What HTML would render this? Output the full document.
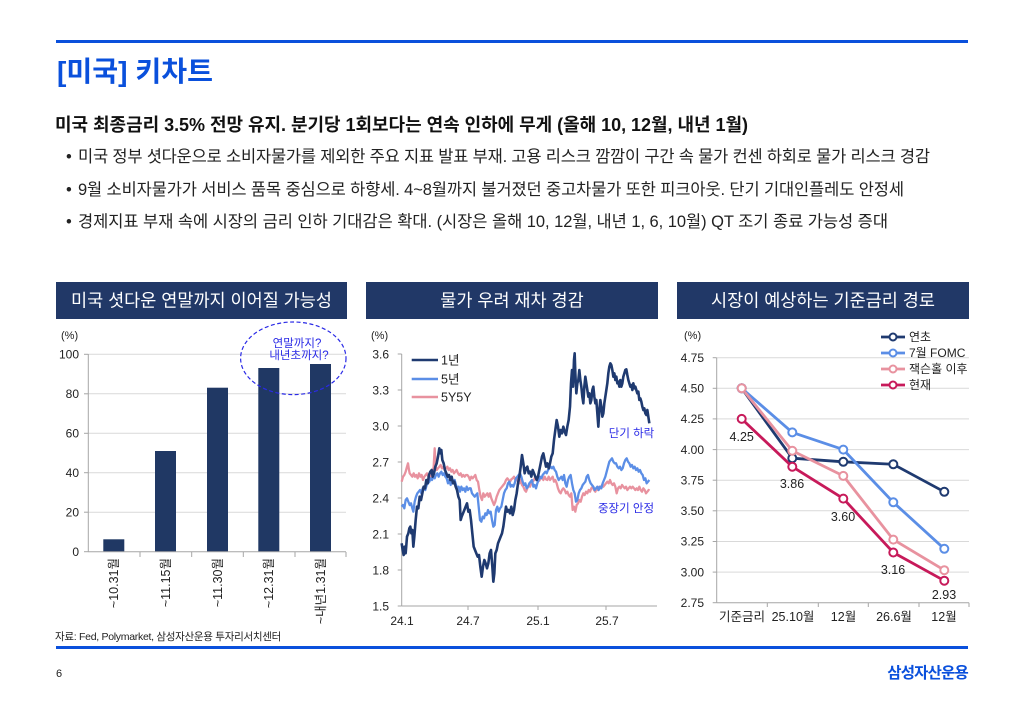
<!DOCTYPE html>
<html><head><meta charset="utf-8">
<style>
html,body{margin:0;padding:0;background:#fff;}
svg{display:block;}
text{font-family:"Liberation Sans","Noto Sans CJK KR",sans-serif;}
</style></head>
<body>
<svg width="1024" height="709" viewBox="0 0 1024 709" xmlns="http://www.w3.org/2000/svg">
<rect x="0" y="0" width="1024" height="709" fill="#fff"/>
<!-- top rule & title -->
<rect x="56" y="40" width="912" height="3" fill="#0a50dc"/>
<text x="57" y="81" font-size="28" font-weight="bold" fill="#0a50dc" textLength="156" lengthAdjust="spacingAndGlyphs">[미국] 키차트</text>

<text x="55" y="131" font-size="18" font-weight="bold" fill="#111" textLength="693" lengthAdjust="spacing">미국 최종금리 3.5% 전망 유지. 분기당 1회보다는 연속 인하에 무게 (올해 10, 12월, 내년 1월)</text>

<g font-size="16.5" fill="#222">
<text x="66" y="162">•</text>
<text x="78" y="162" textLength="852" lengthAdjust="spacing">미국 정부 셧다운으로 소비자물가를 제외한 주요 지표 발표 부재. 고용 리스크 깜깜이 구간 속 물가 컨센 하회로 물가 리스크 경감</text>
<text x="66" y="195">•</text>
<text x="78" y="195" textLength="826" lengthAdjust="spacing">9월 소비자물가가 서비스 품목 중심으로 하향세. 4~8월까지 불거졌던 중고차물가 또한 피크아웃. 단기 기대인플레도 안정세</text>
<text x="66" y="227">•</text>
<text x="78" y="227" textLength="810" lengthAdjust="spacing">경제지표 부재 속에 시장의 금리 인하 기대감은 확대. (시장은 올해 10, 12월, 내년 1, 6, 10월) QT 조기 종료 가능성 증대</text>
</g>

<!-- panel headers -->
<rect x="56" y="282" width="291" height="37" fill="#213867"/>
<rect x="366" y="282" width="292" height="37" fill="#213867"/>
<rect x="677" y="282" width="292" height="37" fill="#213867"/>
<g font-size="17.5" fill="#fff" text-anchor="middle">
<text x="201.5" y="306.5">미국 셧다운 연말까지 이어질 가능성</text>
<text x="512" y="306.5">물가 우려 재차 경감</text>
<text x="823" y="306.5">시장이 예상하는 기준금리 경로</text>
</g>

<!-- ============ LEFT CHART ============ -->
<g stroke="#d9d9d9" stroke-width="1">
<line x1="88" y1="354.3" x2="346" y2="354.3"/>
<line x1="88" y1="393.8" x2="346" y2="393.8"/>
<line x1="88" y1="433.3" x2="346" y2="433.3"/>
<line x1="88" y1="472.7" x2="346" y2="472.7"/>
<line x1="88" y1="512.2" x2="346" y2="512.2"/>
</g>
<g fill="#203864">
<rect x="103.3" y="539.3" width="21" height="12.4"/>
<rect x="155" y="451" width="21" height="100.7"/>
<rect x="207" y="387.7" width="21" height="164"/>
<rect x="258.3" y="368" width="21" height="183.7"/>
<rect x="310" y="364" width="21" height="187.7"/>
</g>
<g stroke="#a6a6a6" stroke-width="1">
<line x1="88.3" y1="354" x2="88.3" y2="552"/>
<line x1="88" y1="551.7" x2="346" y2="551.7"/>
<line x1="84" y1="354.3" x2="88" y2="354.3"/>
<line x1="84" y1="393.8" x2="88" y2="393.8"/>
<line x1="84" y1="433.3" x2="88" y2="433.3"/>
<line x1="84" y1="472.7" x2="88" y2="472.7"/>
<line x1="84" y1="512.2" x2="88" y2="512.2"/>
<line x1="84" y1="551.7" x2="88" y2="551.7"/>
<line x1="140" y1="552" x2="140" y2="557"/>
<line x1="191.7" y1="552" x2="191.7" y2="557"/>
<line x1="243.3" y1="552" x2="243.3" y2="557"/>
<line x1="295" y1="552" x2="295" y2="557"/>
<line x1="346" y1="552" x2="346" y2="557"/>
</g>
<g font-size="12" fill="#222" text-anchor="end">
<text x="79" y="358.5">100</text>
<text x="79" y="398">80</text>
<text x="79" y="437.5">60</text>
<text x="79" y="477">40</text>
<text x="79" y="516.5">20</text>
<text x="79" y="556">0</text>
</g>
<text x="61" y="339" font-size="11" fill="#222">(%)</text>
<g font-size="12.5" fill="#222" text-anchor="end">
<text transform="translate(118.2,558) rotate(-90)">~10.31월</text>
<text transform="translate(169.9,558) rotate(-90)">~11.15월</text>
<text transform="translate(221.9,558) rotate(-90)">~11.30월</text>
<text transform="translate(273.2,558) rotate(-90)">~12.31월</text>
<text transform="translate(324.9,558) rotate(-90)">~내년1.31월</text>
</g>
<ellipse cx="293.3" cy="358.3" rx="52.7" ry="36.3" fill="none" stroke="#2a2ae6" stroke-width="1.2" stroke-dasharray="4,2.5"/>
<g font-size="11.5" fill="#2a2ae6" text-anchor="middle">
<text x="297" y="347">연말까지?</text>
<text x="299" y="359">내년초까지?</text>
</g>

<!-- ============ MIDDLE CHART ============ -->
<g stroke="#a6a6a6" stroke-width="1">
<line x1="401.7" y1="354" x2="401.7" y2="606"/>
<line x1="401.7" y1="606" x2="657" y2="606"/>
<line x1="397.7" y1="354" x2="401.7" y2="354"/>
<line x1="397.7" y1="390" x2="401.7" y2="390"/>
<line x1="397.7" y1="426" x2="401.7" y2="426"/>
<line x1="397.7" y1="462" x2="401.7" y2="462"/>
<line x1="397.7" y1="498" x2="401.7" y2="498"/>
<line x1="397.7" y1="534" x2="401.7" y2="534"/>
<line x1="397.7" y1="570" x2="401.7" y2="570"/>
<line x1="397.7" y1="606" x2="401.7" y2="606"/>
<line x1="468" y1="606" x2="468" y2="610"/>
<line x1="538" y1="606" x2="538" y2="610"/>
<line x1="606" y1="606" x2="606" y2="610"/>
</g>
<g font-size="12" fill="#222" text-anchor="end">
<text x="389" y="358.5">3.6</text>
<text x="389" y="394.5">3.3</text>
<text x="389" y="430.5">3.0</text>
<text x="389" y="466.5">2.7</text>
<text x="389" y="502.5">2.4</text>
<text x="389" y="538.5">2.1</text>
<text x="389" y="574.5">1.8</text>
<text x="389" y="610.5">1.5</text>
</g>
<text x="371" y="339" font-size="11" fill="#222">(%)</text>
<g font-size="12" fill="#222" text-anchor="middle">
<text x="402" y="625">24.1</text>
<text x="468" y="625">24.7</text>
<text x="538" y="625">25.1</text>
<text x="607" y="625">25.7</text>
</g>
<g transform="translate(360,320) scale(0.333333)" fill="none" stroke-linejoin="round">
<polyline vector-effect="non-scaling-stroke" stroke="#e8929f" stroke-width="2.3" points="125,485 129,470 133,465 137,455 141,440 144,430 147,450 149,460 153,465 157,470 161,460 165,470 169,465 173,475 177,460 181,470 185,465 189,480 193,470 197,465 201,460 205,470 209,465 213,475 217,460 221,440 224,385 227,440 230,450 234,445 238,440 242,435 246,445 250,440 254,450 258,445 262,440 266,450 270,445 274,455 278,450 282,460 286,455 290,450 294,460 298,465 302,460 306,470 310,465 314,470 318,465 322,465 326,470 330,480 334,470 338,475 342,470 346,465 350,480 354,485 358,510 362,530 366,540 370,520 374,530 378,525 382,520 386,530 390,520 394,535 398,545 402,555 406,545 410,530 414,520 418,510 422,505 426,500 430,495 434,490 438,480 442,475 446,480 450,485 454,478 458,475 462,470 466,480 470,475 474,485 478,490 482,480 486,495 490,500 494,510 498,515 502,505 506,495 510,500 514,490 518,485 522,480 526,470 530,475 534,478 538,482 542,475 546,470 550,480 554,470 558,478 562,480 566,470 570,480 574,475 578,470 582,485 586,480 590,490 594,505 598,515 602,520 606,510 610,505 614,510 618,520 622,515 626,525 630,530 634,520 638,570 642,560 646,575 650,555 654,550 658,540 662,545 666,530 670,520 674,525 678,515 682,520 686,510 690,515 694,505 698,500 702,510 706,515 710,505 714,510 718,500 722,505 726,495 730,500 734,495 738,490 742,485 746,490 750,480 754,490 758,495 762,490 766,500 770,520 774,505 778,500 782,505 786,495 790,500 794,505 798,500 802,510 806,505 810,500 814,505 818,500 822,505 826,510 830,505 834,510 838,500 842,510 846,515 850,505 854,510 858,520 862,515 866,510 868,512"/>
<polyline vector-effect="non-scaling-stroke" stroke="#5b8ee6" stroke-width="2.3" points="125,560 129,555 133,565 137,540 141,535 145,545 149,555 153,550 157,565 160,575 164,545 168,530 172,520 176,515 180,510 184,520 188,505 192,500 196,510 200,495 204,490 208,485 212,475 216,480 220,470 224,475 228,465 232,460 236,470 240,460 244,455 248,465 252,460 256,470 260,475 264,490 268,480 272,495 276,480 280,490 284,480 288,495 292,505 296,500 300,515 304,500 308,510 312,505 316,515 320,500 324,510 328,505 332,505 336,520 340,525 344,530 348,525 352,520 356,560 360,600 364,605 368,590 372,595 376,580 380,585 384,570 388,580 392,575 396,600 400,620 404,615 408,570 412,560 416,575 420,565 424,560 428,540 432,520 436,510 440,505 444,490 448,485 452,500 456,495 460,500 464,490 468,475 472,470 476,465 480,460 484,470 488,485 492,495 496,490 500,505 504,500 508,490 512,485 516,480 520,500 524,495 528,505 532,490 536,480 540,470 544,475 548,465 552,460 556,455 560,460 564,450 568,445 572,440 576,445 580,440 584,450 588,455 592,470 596,480 600,475 604,470 608,480 612,465 616,490 620,500 624,480 628,470 632,465 636,490 640,510 644,520 648,545 652,540 656,520 660,510 664,505 668,495 672,490 676,485 680,470 684,465 688,480 692,490 696,495 700,500 704,510 708,505 712,500 716,510 720,500 724,505 728,490 732,480 736,470 740,455 744,440 748,425 752,420 756,415 760,425 764,430 768,430 772,440 776,445 780,440 784,450 788,445 792,430 796,420 800,415 804,425 808,430 812,440 816,435 820,445 824,440 828,450 832,445 836,455 840,450 844,460 848,465 852,480 856,475 860,490 864,485 868,480"/>
<polyline vector-effect="non-scaling-stroke" stroke="#1f3a70" stroke-width="2.6" points="125,670 128,690 131,705 134,680 137,700 141,650 145,640 148,625 151,620 154,640 157,630 160,680 163,650 167,600 171,560 175,565 179,530 183,540 187,520 191,500 195,505 199,480 203,490 207,465 211,455 215,450 218,470 222,460 226,440 230,430 234,410 238,385 241,400 244,390 247,420 251,430 255,450 259,460 263,470 267,465 271,480 275,470 279,490 283,485 287,500 291,510 295,530 299,540 302,600 305,590 309,580 313,570 317,560 321,550 325,575 329,570 333,600 337,640 341,680 345,690 349,700 353,710 357,705 361,740 365,770 369,740 373,720 377,730 381,745 385,730 389,700 393,690 397,740 400,785 403,760 406,700 410,690 414,670 418,660 422,650 426,640 430,620 434,590 438,560 442,575 446,570 450,580 454,560 458,585 462,570 466,540 470,520 474,490 478,470 482,440 486,405 490,430 494,460 498,445 502,440 506,460 510,455 514,470 518,450 522,460 526,470 530,480 534,470 538,450 542,430 546,410 550,400 554,420 558,440 562,430 566,445 570,430 574,410 578,400 582,360 586,330 590,300 594,320 598,350 602,330 606,340 610,320 614,335 618,345 622,320 626,300 630,260 633,190 636,150 639,200 642,120 644,100 646,160 649,220 652,190 655,180 658,150 661,180 664,200 667,230 670,250 673,200 676,170 679,190 682,210 685,230 688,220 691,250 694,240 697,210 700,200 703,230 706,250 709,240 712,280 715,320 718,270 721,240 724,260 727,290 730,280 733,250 736,230 739,210 742,190 745,160 748,140 751,130 754,135 757,150 760,170 763,160 766,180 769,170 772,190 775,185 778,200 781,180 784,200 787,190 790,170 793,160 796,150 799,148 802,165 805,180 808,190 811,200 814,195 817,210 820,190 823,205 826,200 829,210 832,220 835,215 838,240 841,235 844,245 847,260 850,270 853,265 856,280 859,285 862,270 865,290 868,310"/>
</g>
<g stroke-width="2.6">
<line x1="411.7" y1="360" x2="438" y2="360" stroke="#1f3a70"/>
<line x1="411.7" y1="379" x2="438" y2="379" stroke="#5b8ee6"/>
<line x1="411.7" y1="397" x2="438" y2="397" stroke="#e8929f"/>
</g>
<g font-size="12.5" fill="#222">
<text x="441" y="364.5">1년</text>
<text x="441" y="383.5">5년</text>
<text x="441" y="401.5">5Y5Y</text>
</g>
<g font-size="11.5" fill="#2a2ae6" text-anchor="middle">
<text x="631.5" y="437">단기 하락</text>
<text x="626" y="512">중장기 안정</text>
</g>

<!-- ============ RIGHT CHART ============ -->
<g stroke="#d9d9d9" stroke-width="1">
<line x1="717" y1="357.7" x2="969" y2="357.7"/>
<line x1="717" y1="388.3" x2="969" y2="388.3"/>
<line x1="717" y1="418.9" x2="969" y2="418.9"/>
<line x1="717" y1="449.6" x2="969" y2="449.6"/>
<line x1="717" y1="480.2" x2="969" y2="480.2"/>
<line x1="717" y1="510.8" x2="969" y2="510.8"/>
<line x1="717" y1="541.5" x2="969" y2="541.5"/>
<line x1="717" y1="572.1" x2="969" y2="572.1"/>
</g>
<g stroke="#a6a6a6" stroke-width="1">
<line x1="716.7" y1="357.7" x2="716.7" y2="602.7"/>
<line x1="716.7" y1="602.7" x2="969" y2="602.7"/>
<line x1="712.7" y1="357.7" x2="716.7" y2="357.7"/>
<line x1="712.7" y1="388.3" x2="716.7" y2="388.3"/>
<line x1="712.7" y1="418.9" x2="716.7" y2="418.9"/>
<line x1="712.7" y1="449.6" x2="716.7" y2="449.6"/>
<line x1="712.7" y1="480.2" x2="716.7" y2="480.2"/>
<line x1="712.7" y1="510.8" x2="716.7" y2="510.8"/>
<line x1="712.7" y1="541.5" x2="716.7" y2="541.5"/>
<line x1="712.7" y1="572.1" x2="716.7" y2="572.1"/>
<line x1="712.7" y1="602.7" x2="716.7" y2="602.7"/>
<line x1="767.3" y1="602.7" x2="767.3" y2="607"/>
<line x1="818.3" y1="602.7" x2="818.3" y2="607"/>
<line x1="868.3" y1="602.7" x2="868.3" y2="607"/>
<line x1="919" y1="602.7" x2="919" y2="607"/>
<line x1="969" y1="602.7" x2="969" y2="607"/>
</g>
<g font-size="12" fill="#222" text-anchor="end">
<text x="704" y="362">4.75</text>
<text x="704" y="392.5">4.50</text>
<text x="704" y="423">4.25</text>
<text x="704" y="454">4.00</text>
<text x="704" y="484.5">3.75</text>
<text x="704" y="515">3.50</text>
<text x="704" y="545.5">3.25</text>
<text x="704" y="576.5">3.00</text>
<text x="704" y="607">2.75</text>
</g>
<text x="684" y="339" font-size="11" fill="#222">(%)</text>
<g font-size="12.5" fill="#222" text-anchor="middle">
<text x="742" y="621">기준금리</text>
<text x="793" y="621">25.10월</text>
<text x="843.5" y="621">12월</text>
<text x="894" y="621">26.6월</text>
<text x="944" y="621">12월</text>
</g>
<g fill="none" stroke-width="2.8" stroke-linejoin="round">
<polyline stroke="#1f3a70" points="741.7,388.3 792.3,458.2 843.3,461.8 893.3,464.3 944.3,491.8"/>
<polyline stroke="#5b8ee6" points="741.7,388.3 792.3,432.4 843.3,449.6 893.3,502.3 944.3,548.8"/>
<polyline stroke="#e8929f" points="741.7,388.3 792.3,450.8 843.3,475.9 893.3,539.6 944.3,570.2"/>
<polyline stroke="#c71a5a" points="741.7,418.9 792.3,466.7 843.3,498.6 893.3,552.5 944.3,580.7"/>
</g>
<g fill="#fff" stroke-width="2">
<g stroke="#1f3a70">
<circle cx="741.7" cy="388.3" r="4"/><circle cx="792.3" cy="458.2" r="4"/><circle cx="843.3" cy="461.8" r="4"/><circle cx="893.3" cy="464.3" r="4"/><circle cx="944.3" cy="491.8" r="4"/>
</g>
<g stroke="#5b8ee6">
<circle cx="741.7" cy="388.3" r="4"/><circle cx="792.3" cy="432.4" r="4"/><circle cx="843.3" cy="449.6" r="4"/><circle cx="893.3" cy="502.3" r="4"/><circle cx="944.3" cy="548.8" r="4"/>
</g>
<g stroke="#e8929f">
<circle cx="741.7" cy="388.3" r="4"/><circle cx="792.3" cy="450.8" r="4"/><circle cx="843.3" cy="475.9" r="4"/><circle cx="893.3" cy="539.6" r="4"/><circle cx="944.3" cy="570.2" r="4"/>
</g>
<g stroke="#c71a5a">
<circle cx="741.7" cy="418.9" r="4"/><circle cx="792.3" cy="466.7" r="4"/><circle cx="843.3" cy="498.6" r="4"/><circle cx="893.3" cy="552.5" r="4"/><circle cx="944.3" cy="580.7" r="4"/>
</g>
</g>
<g font-size="12.5" fill="#222" text-anchor="middle">
<text x="741.7" y="441">4.25</text>
<text x="792" y="488">3.86</text>
<text x="843" y="521">3.60</text>
<text x="893" y="574">3.16</text>
<text x="944" y="599">2.93</text>
</g>
<!-- legend -->
<g stroke-width="2.8">
<line x1="881" y1="337" x2="905" y2="337" stroke="#1f3a70"/>
<line x1="881" y1="353" x2="905" y2="353" stroke="#5b8ee6"/>
<line x1="881" y1="369" x2="905" y2="369" stroke="#e8929f"/>
<line x1="881" y1="385" x2="905" y2="385" stroke="#c71a5a"/>
</g>
<g fill="#fff" stroke-width="2">
<circle cx="893" cy="337" r="3.5" stroke="#1f3a70"/>
<circle cx="893" cy="353" r="3.5" stroke="#5b8ee6"/>
<circle cx="893" cy="369" r="3.5" stroke="#e8929f"/>
<circle cx="893" cy="385" r="3.5" stroke="#c71a5a"/>
</g>
<g font-size="12" fill="#222">
<text x="909" y="341">연초</text>
<text x="909" y="357">7월 FOMC</text>
<text x="909" y="373">잭슨홀 이후</text>
<text x="909" y="389">현재</text>
</g>

<!-- footer -->
<text x="55" y="640" font-size="10.5" fill="#222" letter-spacing="-0.3" textLength="226" lengthAdjust="spacingAndGlyphs">자료: Fed, Polymarket, 삼성자산운용 투자리서치센터</text>
<rect x="56" y="646" width="912" height="3" fill="#0a50dc"/>
<text x="56" y="677" font-size="11" fill="#222">6</text>
<text x="968" y="678" font-size="15.5" font-weight="bold" fill="#0a50dc" text-anchor="end" letter-spacing="-0.8">삼성자산운용</text>
</svg>
</body></html>
